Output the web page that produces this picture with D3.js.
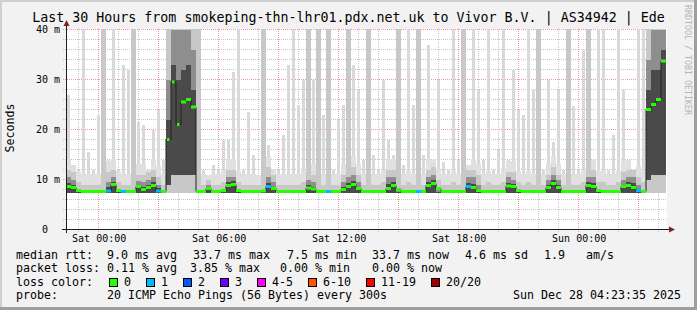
<!DOCTYPE html>
<html>
<head>
<meta charset="utf-8">
<script src="https://cdn.jsdelivr.net/npm/d3@7"></script>
<style>
  body { margin: 0; background: #f2f2f2; }
  svg text { font-family: "DejaVu Sans Mono", monospace; fill: #000; }
</style>
</head>
<body>
<div id="chart"></div>
<script>
// 15 minute bins, last 30 hours (120 bins), values in ms
const medianMs = [
  8.6, 8.4, 7.8, 7.6, 7.6, 7.6, 7.6, 7.6, 7.7, 9.0,
  7.8, 7.6, 7.6, 7.6, 8.6, 8.0, 8.4, 8.8, 7.7, 7.6,
  18, 29.5, 21, 25.5, 26, 24.5, 7.6, 7.6, 8.2, 7.6,
  7.6, 7.8, 8.8, 9.0, 7.8, 7.6, 7.6, 7.6, 7.6, 7.7,
  8.6, 8.2, 7.6, 7.6, 7.6, 7.6, 7.6, 7.6, 8.3, 8.1,
  7.6, 7.6, 7.6, 7.6, 7.6, 8.0, 8.6, 9.0, 8.2, 7.6,
  7.6, 7.6, 7.6, 7.6, 8.2, 8.8, 8.0, 7.6, 7.6, 7.6,
  7.6, 7.6, 8.8, 9.2, 8.2, 7.6, 7.6, 7.6, 7.6, 7.6,
  8.6, 8.4, 7.8, 7.6, 7.6, 7.6, 7.6, 7.6, 8.7, 8.6,
  7.8, 7.6, 7.6, 7.6, 7.6, 7.6, 8.4, 9.2, 8.4, 7.6,
  7.6, 7.6, 7.6, 7.6, 8.8, 8.6, 7.8, 7.6, 7.6, 7.6,
  7.6, 8.6, 8.8, 8.4, 7.8, 7.6, 24, 25, 26, 33.7
];
// loss class per bin (index into lossColors)
const lossIdx = [
  0, 0, 0, 0, 0, 0, 0, 0, 1, 0,
  0, 1, 0, 0, 0, 0, 0, 0, 1, 0,
  0, 0, 0, 0, 0, 0, 0, 0, 0, 0,
  0, 0, 0, 0, 0, 0, 0, 0, 0, 0,
  1, 0, 0, 0, 0, 0, 0, 0, 0, 0,
  0, 0, 1, 0, 0, 0, 0, 0, 0, 0,
  0, 0, 0, 0, 0, 0, 0, 0, 0, 0,
  1, 0, 0, 0, 0, 0, 0, 0, 0, 0,
  1, 0, 0, 0, 0, 0, 0, 0, 0, 0,
  0, 0, 0, 0, 0, 0, 0, 0, 0, 0,
  0, 0, 0, 0, 0, 0, 0, 0, 0, 0,
  0, 0, 0, 0, 1, 0, 0, 0, 0, 0
];
// smoke: slowest ping per bin
const maxMs = [
  27, 13, 12, 45, 15.5, 12, 23, 45, 14, 45,
  12, 33, 32, 45, 21.5, 21, 12, 20, 24, 14,
  45, 45, 45, 45, 45, 45, 45, 12, 11, 13,
  12, 18, 18, 31.5, 45, 12, 23.5, 15, 11, 45,
  17, 12, 12, 19, 33, 45, 25, 30, 45, 30,
  45, 23, 45, 12, 22, 25, 45, 33, 28, 14,
  45, 15, 12, 30, 18, 15, 45, 13, 45, 25,
  45, 15, 37, 14, 30, 13.5, 12, 45, 14, 45,
  13, 45, 28, 14, 45, 12, 16, 45, 14, 32,
  24, 23, 45, 28, 45, 12, 30, 17.5, 28, 12,
  45, 24.8, 12, 36, 45, 14, 45, 45, 12, 19,
  45, 28, 14, 12, 45, 45, 45, 45, 45, 45
];
// smoke: 90th percentile
const p90Ms = [
  12, 11.5, 9.5, 9, 9, 9, 9, 45, 11.5, 12,
  9.5, 9, 9, 45, 11, 11, 11.5, 12, 10.5, 9,
  45, 45, 45, 45, 45, 45, 45, 9, 10, 9,
  9, 9.5, 12, 12, 9.5, 9, 9, 9, 9, 45,
  12.5, 11, 9, 9, 9, 9, 9, 9.5, 45, 11,
  45, 9, 45, 9, 9, 11, 45, 12.5, 11, 9,
  45, 9, 9, 9.5, 12, 12, 45, 9, 9.5, 9,
  45, 9, 12, 12.5, 10, 9, 9, 9.5, 9, 45,
  12, 12, 11, 9, 9.5, 9, 9, 9.5, 11.5, 11.5,
  9.5, 9, 9.5, 9, 45, 9, 11, 12.5, 11, 9,
  45, 9, 9, 9.5, 45, 12, 9.5, 9.5, 9, 9,
  9.5, 11.5, 12, 12, 10.5, 9.5, 45, 45, 45, 45
];
// smoke: 75th percentile
const p75Ms = [
  10.5, 10, 8, 7.9, 7.9, 7.9, 7.9, 7.9, 9.5, 10.5,
  8.2, 7.9, 7.9, 7.9, 9.8, 9.5, 10, 10.5, 9, 7.9,
  30, 40, 40, 40, 40, 36, 7.9, 7.9, 9, 7.9,
  7.9, 8, 10.5, 10.5, 8.2, 7.9, 7.9, 7.9, 7.9, 7.9,
  10.5, 9.5, 7.9, 7.9, 7.9, 7.9, 7.9, 7.9, 10, 9.5,
  7.9, 7.9, 7.9, 7.9, 7.9, 9.5, 10.5, 11, 9.5, 7.9,
  7.9, 7.9, 7.9, 7.9, 10.5, 10.5, 8.2, 7.9, 7.9, 7.9,
  7.9, 7.9, 10.5, 11, 8.5, 7.9, 7.9, 7.9, 7.9, 7.9,
  10.5, 10.5, 9, 7.9, 7.9, 7.9, 7.9, 7.9, 10.5, 10,
  8.2, 7.9, 7.9, 7.9, 7.9, 7.9, 10, 11, 10, 7.9,
  7.9, 7.9, 7.9, 7.9, 10.5, 10.5, 8.2, 7.9, 7.9, 7.9,
  7.9, 10, 10.5, 10.5, 9, 7.9, 34, 40, 40, 40
];
// smoke: 60th percentile
const p60Ms = [
  9.3, 9, 7.6, 7.6, 7.6, 7.6, 7.6, 7.6, 8.6, 9.6,
  7.6, 7.6, 7.6, 7.6, 9, 8.6, 9, 9.5, 8.3, 7.6,
  22, 33, 30, 32, 33, 28, 7.6, 7.6, 8.4, 7.6,
  7.6, 7.6, 9.5, 9.8, 7.6, 7.6, 7.6, 7.6, 7.6, 7.6,
  9.4, 8.6, 7.6, 7.6, 7.6, 7.6, 7.6, 7.6, 9, 8.6,
  7.6, 7.6, 7.6, 7.6, 7.6, 8.6, 9.4, 9.8, 8.6, 7.6,
  7.6, 7.6, 7.6, 7.6, 9.2, 9.6, 7.6, 7.6, 7.6, 7.6,
  7.6, 7.6, 9.6, 9.9, 7.6, 7.6, 7.6, 7.6, 7.6, 7.6,
  9.4, 9.2, 8.2, 7.6, 7.6, 7.6, 7.6, 7.6, 9.4, 9.2,
  7.6, 7.6, 7.6, 7.6, 7.6, 7.6, 9, 9.9, 9, 7.6,
  7.6, 7.6, 7.6, 7.6, 9.6, 9.4, 7.6, 7.6, 7.6, 7.6,
  7.6, 9, 9.6, 9.4, 8.2, 7.6, 28, 32, 32, 36
];
// lower edge of the inner (darker) smoke layers
const loMs = [
  7.4, 7.4, 7.4, 7.4, 7.4, 7.4, 7.4, 7.4, 7.4, 7.4,
  7.4, 7.4, 7.4, 7.4, 7.4, 7.4, 7.4, 7.4, 7.4, 7.4,
  9, 11, 11, 11, 11, 11, 7.4, 7.4, 7.4, 7.4,
  7.4, 7.4, 7.4, 7.4, 7.4, 7.4, 7.4, 7.4, 7.4, 7.4,
  7.4, 7.4, 7.4, 7.4, 7.4, 7.4, 7.4, 7.4, 7.4, 7.4,
  7.4, 7.4, 7.4, 7.4, 7.4, 7.4, 7.4, 7.4, 7.4, 7.4,
  7.4, 7.4, 7.4, 7.4, 7.4, 7.4, 7.4, 7.4, 7.4, 7.4,
  7.4, 7.4, 7.4, 7.4, 7.4, 7.4, 7.4, 7.4, 7.4, 7.4,
  7.4, 7.4, 7.4, 7.4, 7.4, 7.4, 7.4, 7.4, 7.4, 7.4,
  7.4, 7.4, 7.4, 7.4, 7.4, 7.4, 7.4, 7.4, 7.4, 7.4,
  7.4, 7.4, 7.4, 7.4, 7.4, 7.4, 7.4, 7.4, 7.4, 7.4,
  7.4, 7.4, 7.4, 7.4, 7.4, 7.4, 10, 11, 11, 11
];
const pingFloorMs = 7.3;

const yTicks = [0, 10, 20, 30, 40];
const lossLabels = ["0", "1", "2", "3", "4-5", "6-10", "11-19", "20/20"];
const lossColors = ["#26ff00", "#00b8ff", "#0059ff", "#6a00ff", "#ff00ff", "#ff5500", "#ff0000", "#a10000"];

const legendRtt = [["median rtt:", 16], ["9.0 ms avg", 107], ["33.7 ms max", 193], ["7.5 ms min", 287],
  ["33.7 ms now", 372], ["4.6 ms sd", 465], ["1.9", 544], ["am/s", 586]];
const legendLoss = [["packet loss:", 16], ["0.11 % avg", 107], ["3.85 % max", 190],
  ["0.00 % min", 280], ["0.00 % now", 372]];
const legendProbe = [["probe:", 16], ["20 ICMP Echo Pings (56 Bytes) every 300s", 107],
  ["Sun Dec 28 04:23:35 2025", 513]];

const title = "Last 30 Hours from smokeping-thn-lhr01.pdx.net.uk to Vivor B.V. | AS34942 | Ede";

// Chart dimensions
const width = 697;
const height = 310;
const start = new Date(2025, 11, 26, 22, 23, 35);
const end = new Date(2025, 11, 28, 4, 23, 35);
const binTime = (i) => d3.timeMinute.offset(start, 15 * i);

const x = d3.scaleTime().domain([start, end]).range([66, 666]);
const y = d3.scaleLinear().domain([0, 40]).range([229.5, 29.5]);
const bx0 = (i) => x(binTime(i));
const bw = (i) => x(binTime(i + 1)) - x(binTime(i));

const svg = d3.select("#chart").append("svg")
  .attr("width", width).attr("height", height);

// background + 3d frame
svg.append("rect").attr("width", width).attr("height", height).attr("fill", "#f2f2f2");
svg.append("rect").attr("width", width).attr("height", 2).attr("fill", "#cfcfcf");
svg.append("rect").attr("width", 2).attr("height", height).attr("fill", "#cfcfcf");
svg.append("rect").attr("y", height - 3).attr("width", width).attr("height", 3).attr("fill", "#9e9e9e");
svg.append("rect").attr("x", width - 3).attr("width", 3).attr("height", height).attr("fill", "#9e9e9e");

// canvas
svg.append("rect").attr("x", 66).attr("y", 29).attr("width", 601).attr("height", 200).attr("fill", "#fff");

svg.append("clipPath").attr("id", "plot-clip")
  .append("rect").attr("x", 66).attr("y", 29).attr("width", 601).attr("height", 200);

// grid
const grid = svg.append("g").attr("stroke-width", 1).attr("stroke-dasharray", "1,1");
const hours = d3.timeHour.range(start, end);
grid.selectAll(".vgrid").data(hours).enter().append("line")
  .attr("x1", (d) => Math.round(x(d)) + 0.5).attr("x2", (d) => Math.round(x(d)) + 0.5)
  .attr("y1", 29).attr("y2", 232)
  .attr("stroke", (d) => d.getHours() % 3 === 0 ? "#ee9c9c" : "#c6c6c6");
grid.selectAll(".hgrid").data(d3.range(2, 41, 2)).enter().append("line")
  .attr("x1", 63).attr("x2", 667)
  .attr("y1", (d) => y(d)).attr("y2", (d) => y(d))
  .attr("stroke", (d) => d % 10 === 0 ? "#ee9c9c" : "#c6c6c6");

// smoke
const plot = svg.append("g").attr("clip-path", "url(#plot-clip)")
  .attr("shape-rendering", "crispEdges");
// light band over the full bin, slow outliers as thinner spikes
const bandTop = (i) => Math.min(maxMs[i], p90Ms[i] < 20 ? p90Ms[i] + 2.2 : 11.5);
plot.append("g").selectAll("rect").data(maxMs).enter().append("rect")
  .attr("x", (d, i) => bx0(i)).attr("width", (d, i) => bw(i))
  .attr("y", (d, i) => y(bandTop(i)))
  .attr("height", (d, i) => y(pingFloorMs) - y(bandTop(i)))
  .attr("fill", "#e0e0e0");
plot.append("g").selectAll("rect").data(maxMs).enter().append("rect")
  .attr("x", (d, i) => bx0(i) + 1).attr("width", (d, i) => bw(i) - 2)
  .attr("y", (d) => y(d))
  .attr("height", (d, i) => Math.max(0, y(bandTop(i)) - y(d)))
  .attr("fill", "#d9d9d9");

const layers = [
  { hi: p90Ms, lo: null, color: "#c8c8c8" },
  { hi: p75Ms, lo: loMs, color: "#8e8e8e" },
  { hi: p60Ms, lo: loMs, color: "#4a4a4a" }
];
layers.forEach((layer) => {
  plot.append("g").selectAll("rect").data(layer.hi).enter().append("rect")
    .attr("x", (d, i) => bx0(i))
    .attr("width", (d, i) => bw(i))
    .attr("y", (d) => y(d))
    .attr("height", (d, i) => y(layer.lo ? layer.lo[i] : pingFloorMs) - y(d))
    .attr("fill", layer.color);
});

// median line (dark) and loss coloured segments
const medPts = medianMs.map((v, i) => [binTime(i), v]);
medPts.push([end, medianMs[medianMs.length - 1]]);
const medLayer = svg.append("g").attr("clip-path", "url(#plot-clip)");
medLayer.append("path").datum(medPts)
  .attr("fill", "none").attr("stroke", "#202020").attr("stroke-width", 1)
  .attr("d", d3.line().x((d) => x(d[0])).y((d) => y(d[1])).curve(d3.curveStepAfter));
// isolated levels (big jumps on both sides) are drawn as short dots
const isolated = (i) => Math.abs(medianMs[i] - (medianMs[i - 1] ?? medianMs[i])) > 2 &&
  Math.abs(medianMs[i] - (medianMs[i + 1] ?? medianMs[i])) > 2;
medLayer.append("g").selectAll("line").data(medianMs).enter().append("line")
  .attr("x1", (d, i) => bx0(i) + (isolated(i) ? 1 : 0))
  .attr("x2", (d, i) => bx0(i) + bw(i) - (isolated(i) ? 1.5 : 0))
  .attr("y1", (d) => y(d)).attr("y2", (d) => y(d))
  .attr("stroke", (d, i) => lossColors[lossIdx[i]])
  .attr("stroke-width", 3);

// axes
svg.append("line").attr("x1", 66.5).attr("x2", 66.5).attr("y1", 233).attr("y2", 25)
  .attr("stroke", "#1f1f1f");
svg.append("path").attr("d", "M63.5,26 L69.5,26 L66.5,20 Z").attr("fill", "#801f1f");
svg.append("line").attr("x1", 62).attr("x2", 670).attr("y1", 229.5).attr("y2", 229.5)
  .attr("stroke", "#1f1f1f");
svg.append("path").attr("d", "M669,226.5 L669,232.5 L675,229.5 Z").attr("fill", "#801f1f");

const yAxis = d3.axisLeft(y).tickValues(yTicks).tickSize(0).tickPadding(6)
  .tickFormat((d) => d === 0 ? "0\u00a0\u00a0" : d + " m");
svg.append("g").attr("transform", "translate(66,0)").call(yAxis)
  .call((g) => g.select(".domain").remove())
  .selectAll("text").attr("font-family", "DejaVu Sans Mono").attr("font-size", 10).attr("fill", "#000");

const xAxis = d3.axisBottom(x).ticks(d3.timeHour.every(6)).tickSize(0).tickPadding(6)
  .tickFormat(d3.timeFormat("%a %H:%M"));
svg.append("g").attr("transform", "translate(0.5,229)").call(xAxis)
  .call((g) => g.select(".domain").remove())
  .selectAll("text").attr("font-family", "DejaVu Sans Mono").attr("font-size", 10).attr("fill", "#000");

// title and side labels
svg.append("text").attr("x", width / 2).attr("y", 22).attr("text-anchor", "middle")
  .attr("font-size", 13.3).text(title);
svg.append("text").attr("transform", "translate(14,128) rotate(-90)")
  .attr("text-anchor", "middle").attr("font-size", 11.63).text("Seconds");
svg.append("text").attr("transform", "translate(685,5) rotate(90)")
  .attr("font-size", 8.3).style("fill", "#b4b4b4").text("RRDTOOL / TOBI OETIKER");

// legend
const legend = svg.append("g").attr("font-size", 11.63);
const rows = [[legendRtt, 258.5], [legendLoss, 272], [legendProbe, 299.3]];
rows.forEach(([items, yy]) => {
  legend.selectAll(null).data(items).enter().append("text")
    .attr("x", (d) => d[1]).attr("y", yy).style("white-space", "pre").text((d) => d[0]);
});
legend.append("text").attr("x", 16).attr("y", 285.6).text("loss color:");
let bx = 108.7;
lossLabels.forEach((lab, i) => {
  legend.append("rect").attr("x", Math.round(bx) + 0.5).attr("y", 278.5).attr("width", 8).attr("height", 8)
    .attr("fill", lossColors[i]).attr("stroke", "#000");
  legend.append("text").attr("x", bx + 15.3).attr("y", 285.6).text(lab);
  bx = bx + 15.3 + lab.length * 7 + 14.7;
});
</script>
</body>
</html>
